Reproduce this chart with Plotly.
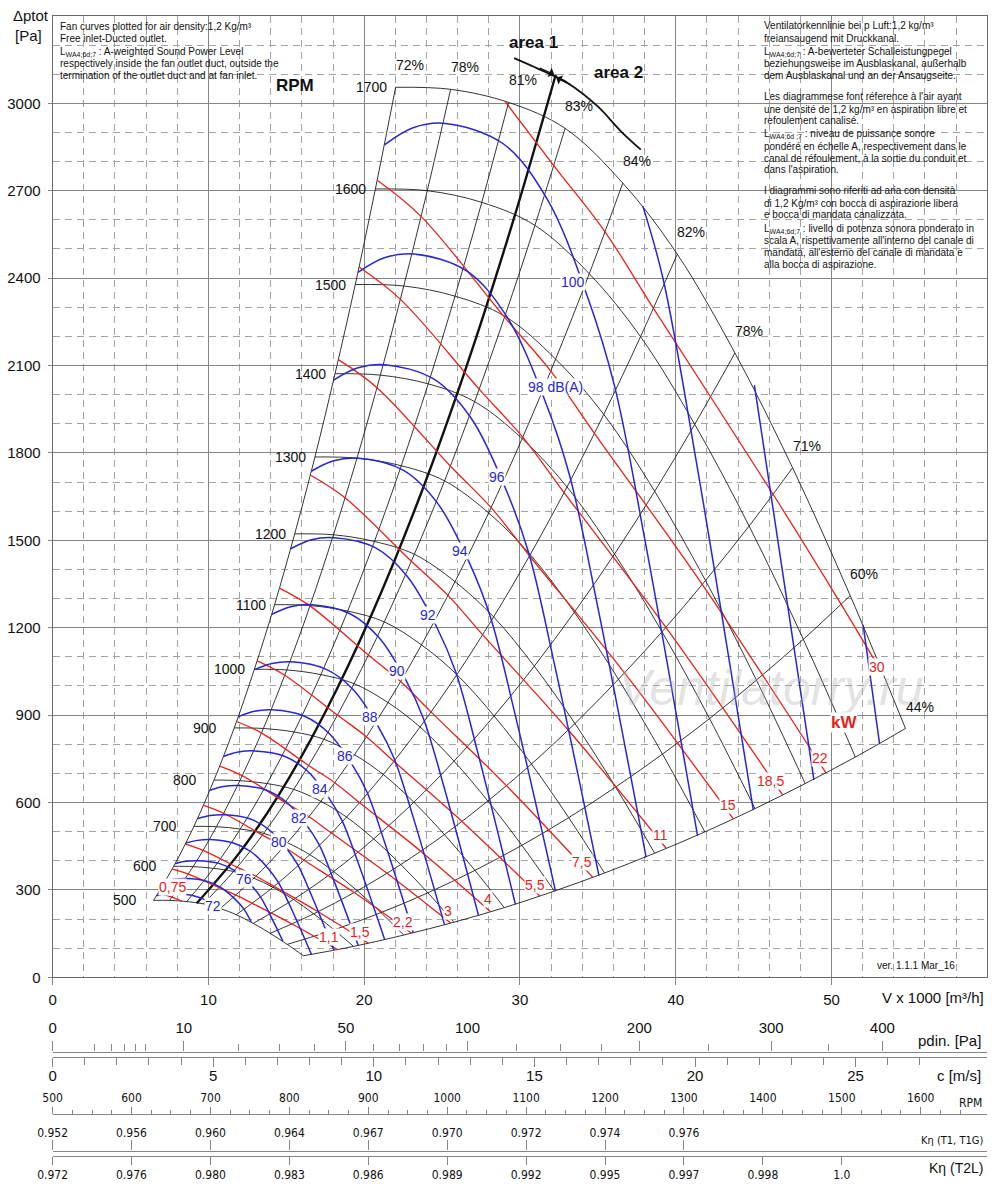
import plotly.graph_objects as go

# ------------------------------------------------------------------
# Values
# ------------------------------------------------------------------
RPM = [500, 600, 700, 800, 900, 1000, 1100, 1200, 1300, 1400, 1500, 1600, 1700]
EFF_LABELS = ["72%", "78%", "81%", "83%", "84%", "82%", "78%", "71%", "60%", "44%"]

# Flow V (x1000 m3/h) / total pressure (Pa) where every RPM curve meets every efficiency line
GRID_V = [
    [6.48, 7.51, 8.61, 9.68, 10.76, 11.79, 12.88, 13.97, 15.06, 16.10],
    [7.77, 9.02, 10.33, 11.61, 12.92, 14.15, 15.46, 16.76, 18.07, 19.32],
    [9.07, 10.52, 12.05, 13.55, 15.07, 16.51, 18.04, 19.56, 21.08, 22.54],
    [10.36, 12.02, 13.77, 15.48, 17.22, 18.87, 20.61, 22.35, 24.09, 25.76],
    [11.66, 13.53, 15.50, 17.42, 19.38, 21.23, 23.19, 25.15, 27.11, 28.99],
    [12.95, 15.03, 17.22, 19.35, 21.53, 23.59, 25.77, 27.94, 30.12, 32.21],
    [14.25, 16.53, 18.94, 21.29, 23.68, 25.95, 28.34, 30.74, 33.13, 35.43],
    [15.54, 18.03, 20.66, 23.22, 25.83, 28.31, 30.92, 33.53, 36.14, 38.65],
    [16.84, 19.54, 22.38, 25.16, 27.99, 30.66, 33.49, 36.32, 39.15, 41.87],
    [18.13, 21.04, 24.11, 27.09, 30.14, 33.02, 36.07, 39.12, 42.17, 45.09],
    [19.43, 22.54, 25.83, 29.03, 32.29, 35.38, 38.65, 41.91, 45.18, 48.31],
    [20.72, 24.05, 27.55, 30.96, 34.45, 37.74, 41.22, 44.71, 48.19, 51.53],
    [22.02, 25.55, 29.27, 32.90, 36.60, 40.10, 43.80, 47.50, 51.20, 54.75],
]
GRID_P = [
    [264, 264, 260, 252, 236, 215, 185, 151, 113, 74],
    [381, 380, 374, 363, 340, 309, 267, 218, 163, 106],
    [518, 517, 509, 494, 462, 421, 363, 297, 222, 145],
    [677, 675, 665, 645, 604, 550, 475, 387, 290, 189],
    [856, 854, 842, 817, 764, 696, 601, 490, 367, 239],
    [1057, 1055, 1039, 1008, 943, 859, 742, 605, 453, 296],
    [1279, 1276, 1257, 1220, 1141, 1039, 897, 732, 548, 358],
    [1522, 1519, 1496, 1452, 1358, 1237, 1068, 871, 653, 426],
    [1786, 1782, 1756, 1704, 1594, 1451, 1253, 1023, 766, 499],
    [2072, 2067, 2037, 1976, 1849, 1683, 1453, 1186, 888, 579],
    [2378, 2373, 2338, 2269, 2122, 1932, 1668, 1362, 1020, 665],
    [2706, 2700, 2660, 2581, 2415, 2199, 1898, 1549, 1160, 756],
    [3055, 3048, 3003, 2914, 2726, 2482, 2143, 1749, 1310, 854],
]

# bold line separating area 1 / area 2
AREA_V = [9.25, 12.0, 14.6, 17.5, 20.5, 23.5, 26.5, 29.5, 32.3]
AREA_P = [254, 428, 633, 910, 1248, 1640, 2086, 2585, 3099]
ARROW_V = [29.63, 31.77, 33.06, 34.98, 36.48, 37.76]
ARROW_P = [3155, 3104, 3070, 2990, 2904, 2841]

# absorbed power lines (kW)
KW_TEXT = ["0,75", "1,1", "1,5", "2,2", "3", "4", "5,5", "7,5", "11", "15", "18,5", "22", "30"]
KW_V = [
    [6.76, 7.67, 8.32],
    [7.68, 8.71, 10.69, 11.78, 12.82, 15.37, 18.29],
    [8.52, 9.66, 11.85, 13.06, 14.21, 17.04, 20.28],
    [9.68, 10.98, 13.47, 14.84, 16.14, 19.36, 23.04],
    [10.73, 12.17, 14.93, 16.46, 17.90, 21.47, 25.55],
    [11.81, 13.40, 16.44, 18.11, 19.71, 23.63, 28.12],
    [13.13, 14.90, 18.28, 20.14, 21.91, 26.28, 31.27],
    [14.56, 16.52, 20.27, 22.34, 24.29, 29.13, 34.68],
    [16.54, 18.77, 23.03, 25.38, 27.60, 33.10, 39.40],
    [18.34, 20.82, 25.53, 28.15, 30.61, 36.71, 43.70],
    [19.67, 22.33, 27.38, 30.18, 32.83, 39.37, 46.86],
    [20.84, 23.65, 29.01, 31.98, 34.78, 41.71, 49.64],
    [29.05, 32.17, 35.46, 38.57, 46.25, 50.62, 53.30],
]
KW_P = [
    [288, 275, 261],
    [371, 354, 308, 282, 254, 183, 95],
    [457, 436, 378, 347, 312, 225, 117],
    [590, 563, 488, 448, 402, 291, 151],
    [725, 692, 600, 551, 495, 357, 186],
    [878, 839, 727, 668, 599, 433, 225],
    [1086, 1037, 900, 826, 741, 535, 279],
    [1336, 1275, 1106, 1015, 911, 658, 343],
    [1724, 1646, 1428, 1311, 1176, 849, 442],
    [2120, 2024, 1755, 1612, 1447, 1045, 544],
    [2438, 2327, 2019, 1854, 1664, 1201, 626],
    [2736, 2612, 2266, 2081, 1867, 1348, 702],
    [3006, 2786, 2559, 2296, 1658, 1280, 1040],
]
KW_LABEL_V = [7.67, 17.75, 19.74, 22.50, 25.40, 27.97, 30.98, 34.00, 39.01, 43.38, 46.08, 49.29, 52.95]
KW_LABEL_P = [310, 138, 156, 190, 228, 269, 317, 396, 488, 591, 674, 753, 1065]

# sound power level lines dB(A)
DB_LEVELS = [72, 74, 76, 78, 80, 82, 84, 86, 88, 90, 92, 94, 96, 98, 100, 102, 104, 106]
DB_V = [
    [6.67, 7.24, 7.89, 9.05, 9.93, 10.44],
    [7.24, 7.87, 8.57, 9.83, 10.79, 11.68, 12.27, 12.75],
    [7.87, 8.55, 9.32, 10.68, 11.72, 12.69, 13.33, 14.05, 14.78],
    [8.55, 9.29, 10.12, 11.60, 12.74, 13.78, 14.48, 15.27, 16.62],
    [9.29, 10.10, 11.00, 12.61, 13.84, 14.98, 15.74, 16.59, 18.06],
    [10.09, 10.97, 11.95, 13.70, 15.04, 16.27, 17.10, 18.02, 19.62],
    [10.97, 11.92, 12.98, 14.88, 16.34, 17.68, 18.58, 19.58, 21.32],
    [11.91, 12.95, 14.10, 16.17, 17.75, 19.21, 20.18, 21.28, 23.16],
    [12.95, 14.07, 15.32, 17.57, 19.29, 20.87, 21.93, 23.12, 25.16],
    [14.07, 15.29, 16.65, 19.09, 20.95, 22.68, 23.82, 25.12, 27.34],
    [15.28, 16.61, 18.09, 20.74, 22.77, 24.64, 25.89, 27.29, 29.71],
    [16.60, 18.04, 19.65, 22.53, 24.74, 26.77, 28.12, 29.65, 32.28],
    [18.04, 19.60, 21.35, 24.48, 26.88, 29.08, 30.56, 32.21, 35.07],
    [19.60, 21.30, 23.20, 26.60, 29.20, 31.60, 33.20, 35.00, 38.10],
    [21.30, 23.14, 25.21, 28.90, 31.73, 34.33, 36.07, 38.03, 41.40],
    [37.89, 39.19, 41.32, 44.98],
    [45.05, 48.87],
    [52.03, 53.09],
]
DB_P = [
    [280, 286, 287, 280, 262, 241],
    [331, 337, 339, 331, 309, 270, 235, 190],
    [390, 398, 400, 391, 365, 319, 277, 205, 124],
    [461, 470, 473, 461, 431, 377, 327, 242, 78],
    [544, 555, 558, 545, 509, 445, 386, 285, 93],
    [642, 655, 658, 643, 600, 525, 456, 337, 109],
    [758, 773, 777, 759, 709, 620, 538, 398, 129],
    [894, 913, 918, 896, 837, 732, 636, 469, 152],
    [1056, 1077, 1083, 1057, 988, 864, 750, 554, 180],
    [1246, 1272, 1279, 1248, 1166, 1020, 886, 654, 212],
    [1471, 1502, 1509, 1474, 1376, 1204, 1046, 772, 250],
    [1737, 1773, 1782, 1740, 1625, 1421, 1234, 911, 296],
    [2050, 2092, 2103, 2053, 1918, 1677, 1457, 1076, 349],
    [2420, 2470, 2483, 2424, 2264, 1980, 1720, 1270, 412],
    [2857, 2916, 2931, 2862, 2673, 2337, 2030, 1499, 486],
    [2647, 2397, 1770, 574],
    [2033, 678],
    [1210, 800],
]
DB_LABEL_TEXT = ["72", "76", "80", "82", "84", "86", "88", "90", "92", "94", "96", "98 dB(A)", "100"]
DB_LABEL_V = [10.30, 12.29, 14.54, 15.82, 17.17, 18.78, 20.38, 22.12, 24.11, 26.17, 28.54, 32.27, 33.42]
DB_LABEL_P = [245, 337, 464, 547, 646, 760, 894, 1051, 1244, 1463, 1717, 2026, 2387]

# main axes ticks
X_TICKS = [0, 10, 20, 30, 40, 50]
Y_TICKS = [0, 300, 600, 900, 1200, 1500, 1800, 2100, 2400, 2700, 3000]

# auxiliary scales below the chart
PDIN_MAJOR = [0, 10, 50, 100, 200, 300, 400]
PDIN_MINOR = [1, 2, 3, 4, 5, 20, 30, 40, 60, 70, 80, 90, 125, 150, 175, 250, 350]
C_MAJOR = [0, 5, 10, 15, 20, 25]
C_MINOR = [1, 2, 3, 4, 6, 7, 8, 9, 11, 12, 13, 14, 16, 17, 18, 19, 21, 22, 23, 24, 26, 27]
RPM_SCALE = [500, 600, 700, 800, 900, 1000, 1100, 1200, 1300, 1400, 1500, 1600]
RPM_MINOR = [525, 550, 575, 625, 650, 675, 725, 750, 775, 825, 850, 875, 925, 950, 975,
             1025, 1050, 1075, 1125, 1150, 1175, 1225, 1250, 1275, 1325, 1350, 1375,
             1425, 1450, 1475, 1525, 1550, 1575, 1625, 1650]
K_T1_RPM = [500, 600, 700, 800, 900, 1000, 1100, 1200, 1300]
K_T1_TEXT = ["0.952", "0.956", "0.960", "0.964", "0.967", "0.970", "0.972", "0.974", "0.976"]
K_T2_RPM = [500, 600, 700, 800, 900, 1000, 1100, 1200, 1300, 1400, 1500]
K_T2_TEXT = ["0.972", "0.976", "0.980", "0.983", "0.986", "0.989", "0.992", "0.995", "0.997", "0.998", "1.0"]

# ------------------------------------------------------------------
# Styling / layout
# ------------------------------------------------------------------
FIG_W, FIG_H = 1000, 1184
PLOT_L, PLOT_R, PLOT_T, PLOT_B = 52.6, 987.3, 15.9, 977.3

FONT = "Liberation Sans, Arial, Helvetica, sans-serif"
NARROW = "Liberation Sans Narrow, Arial Narrow, DejaVu Sans Condensed, Liberation Sans, sans-serif"
BLACK = "#111111"
RED = "#e3231c"
BLUE = "#2727cf"
GRID_MAJOR = "#858585"
GRID_MINOR = "#a3a3a3"
FRAME = "#6a6a6a"
SCALE = "#858585"


def xp(x):
    return x / FIG_W


def yp(y):
    return 1 - y / FIG_H


fig = go.Figure()


def add_line(xs, ys, color, width, xaxis="x"):
    fig.add_trace(go.Scatter(x=xs, y=ys, mode="lines", xaxis=xaxis, yaxis="y",
                             line=dict(color=color, width=width, shape="spline", smoothing=1.0),
                             hoverinfo="skip", showlegend=False))


# efficiency lines (columns of the grid)
for j in range(len(EFF_LABELS)):
    add_line([row[j] for row in GRID_V], [row[j] for row in GRID_P], BLACK, 0.85)
# RPM curves (rows of the grid)
for row_v, row_p in zip(GRID_V, GRID_P):
    add_line(row_v, row_p, BLACK, 0.85)
# area divider and arrow arc
add_line(AREA_V, AREA_P, BLACK, 2.4)
add_line(ARROW_V, ARROW_P, BLACK, 1.8)
# kW lines
for v, p in zip(KW_V, KW_P):
    add_line(v, p, RED, 1.3)
# dB lines
for v, p in zip(DB_V, DB_P):
    add_line(v, p, BLUE, 1.5)

ann = []


def text_px(text, x, y, size=10, color=BLACK, xanchor="left", family=FONT, **kw):
    ann.append(dict(text=text, x=xp(x), y=yp(y), xref="paper", yref="paper", showarrow=False,
                    xanchor=xanchor, yanchor="middle", font=dict(size=size, color=color, family=family), **kw))


def text_data(text, x, y, size=14, color=BLACK, xanchor="center", **kw):
    ann.append(dict(text=text, x=x, y=y, xref="x", yref="y", showarrow=False,
                    xanchor=xanchor, yanchor="middle", font=dict(size=size, color=color, family=FONT), **kw))


# watermark first so that the real labels sit above it
text_px("Ventilatorry.ru", 771, 688, size=50, color="rgba(175,175,175,0.35)",
        xanchor="center", family="Liberation Sans, Arial, sans-serif")
ann[-1]["font"]["style"] = "italic"

# RPM labels at the start of every curve
for rpm, row_v, row_p in zip(RPM, GRID_V, GRID_P):
    text_data(str(rpm), row_v[0], row_p[0], size=14, xanchor="right",
              xshift=(-7 if rpm >= 1000 else -15))
# efficiency labels at the end on the 1700 curve
for lab, v, p in zip(EFF_LABELS, GRID_V[-1], GRID_P[-1]):
    text_data(lab, v, p, size=14, xshift=14, yshift=22)
# kW labels
for t, v, p in zip(KW_TEXT, KW_LABEL_V, KW_LABEL_P):
    text_data(t, v, p, size=14, color=RED, bgcolor="white", borderpad=0)
text_data("<b>kW</b>", 50.77, 873, size=17, color=RED, bgcolor="white", borderpad=0)
# dB labels
for t, v, p in zip(DB_LABEL_TEXT, DB_LABEL_V, DB_LABEL_P):
    text_data(t, v, p, size=14, color=BLUE, bgcolor="white", borderpad=0)

# arrows pointing at the area divider
ann.append(dict(x=32.20, y=3099, xref="x", yref="y", ax=-16, ay=-7, text="", showarrow=True,
                arrowhead=1, arrowsize=1.3, arrowwidth=1.3, arrowcolor=BLACK))
ann.append(dict(x=32.33, y=3088, xref="x", yref="y", ax=16, ay=8, text="", showarrow=True,
                arrowhead=1, arrowsize=1.3, arrowwidth=1.3, arrowcolor=BLACK))
text_px("<b>area 1</b>", 533, 42, size=17, xanchor="center")
text_px("<b>area 2</b>", 618, 72, size=17, xanchor="center")
text_px("<b>RPM</b>", 295, 86, size=17, xanchor="center")

# axis titles and notes
text_px("\u0394ptot", 31, 15, size=15, xanchor="center")
text_px("[Pa]", 28, 35, size=15, xanchor="center")
text_px("V x 1000 [m\u00b3/h]", 986, 997, size=15, xanchor="right")
text_px("ver. 1.1.1 Mar_16", 916, 965, size=10, xanchor="center")

LW = "L<sub>WA4;6d;7</sub>"
left_note = [
    ("Fan curves plotted for air density:1,2 Kg/m\u00b3", 26.7),
    ("Free inlet-Ducted outlet.", 38.3),
    (LW + " : A-weighted Sound Power Level", 51.7),
    ("respectively inside the fan outlet duct, outside the", 63.3),
    ("termination of the outlet duct and at fan inlet.", 75),
]
for t, y in left_note:
    text_px(t, 58, y, size=10)

right_note = [
    ("Ventilatorkennlinie bei p Luft:1,2 kg/m\u00b3", 26),
    ("freiansaugend mit Druckkanal.", 38),
    (LW + " : A-bewerteter Schalleistungpegel", 52),
    ("beziehungsweise im Ausblaskanal, au\u00dferhalb", 63.5),
    ("dem Ausblaskanal und an der Ansaugseite.", 75),
    ("Les diagrammese font r\u00e9ference \u00e0 l'air ayant", 97),
    ("une densit\u00e9 de 1,2 kg/m\u00b3 en aspiration libre et", 109),
    ("refoulement canalis\u00e9.", 120.5),
    ("L<sub>WA4;6d ;7</sub> : niveau de puissance sonore", 134),
    ("pond\u00e9r\u00e9 en \u00e9chelle A, respectivement dans le", 146.5),
    ("canal de r\u00e9foulement, \u00e0 la sortie du conduit et", 158),
    ("dans l'aspiration.", 169.5),
    ("I diagrammi sono riferiti ad aria con densit\u00e0", 191),
    ("di 1,2 Kg/m\u00b3 con bocca di aspirazione libera", 203),
    ("e bocca di mandata canalizzata.", 214.5),
    (LW + " : livello di potenza sonora ponderato in", 229),
    ("scala A, rispettivamente all'interno del canale di", 241),
    ("mandata, all'esterno del canale di mandata e", 252.5),
    ("alla bocca di aspirazione.", 264),
]
for t, y in right_note:
    text_px(t, 762, y, size=10)

# titles of the auxiliary scales
text_px("pdin. [Pa]", 983, 1040, size=15, xanchor="right")
text_px("c [m/s]", 983, 1075, size=15, xanchor="right")
text_px("RPM", 984, 1103, size=12, xanchor="right", family=NARROW)
text_px("K\u03b7 (T1, T1G)", 985, 1140, size=11, xanchor="right", family=NARROW)
text_px("K\u03b7 (T2L)", 985, 1168, size=14, xanchor="right")

# ------------------------------------------------------------------
# axes
# ------------------------------------------------------------------
main_x = dict(domain=[xp(PLOT_L), xp(PLOT_R)], range=[0, 60], anchor="y", automargin=False,
              tickmode="array", tickvals=X_TICKS, ticks="outside", ticklen=7, tickcolor=GRID_MAJOR,
              tickfont=dict(size=15, family=FONT, color=BLACK), ticklabelstandoff=2,
              showgrid=True, gridcolor=GRID_MAJOR, gridwidth=1,
              showline=True, mirror=True, linecolor=FRAME, linewidth=1, zeroline=False,
              minor=dict(tickmode="linear", tick0=0, dtick=2, showgrid=True, gridcolor=GRID_MINOR,
                         griddash="7px,5px", gridwidth=1, ticks=""),
              fixedrange=True)
main_y = dict(domain=[yp(PLOT_B), yp(PLOT_T)], range=[0, 3300], anchor="x", automargin=False,
              tickmode="array", tickvals=Y_TICKS, ticks="outside", ticklen=4, tickcolor=GRID_MAJOR,
              tickfont=dict(size=15, family=FONT, color=BLACK), ticklabelstandoff=4,
              showgrid=True, gridcolor=GRID_MAJOR, gridwidth=1,
              showline=True, mirror=True, linecolor=FRAME, linewidth=1, zeroline=False,
              minor=dict(tickmode="linear", tick0=0, dtick=100, showgrid=True, gridcolor=GRID_MINOR,
                         griddash="7px,5px", gridwidth=1, ticks=""),
              fixedrange=True)


def scale_axis(ypix, side, rng, vals, texts, minor_vals, major_len, minor_len, font, standoff):
    return dict(overlaying="x", anchor="free", position=yp(ypix), side=side, range=rng,
                automargin=False,
                tickmode="array", tickvals=vals, ticktext=texts, ticks="outside",
                ticklen=major_len, tickwidth=1, tickcolor=SCALE,
                showline=True, linecolor=SCALE, linewidth=1.3, showgrid=False, zeroline=False,
                tickfont=font, ticklabelstandoff=standoff,
                minor=dict(tickmode="array", tickvals=minor_vals, ticks="outside", ticklen=minor_len,
                           tickcolor=SCALE, showgrid=False),
                fixedrange=True)


PDIN_RANGE = [0, 22.53]          # axis runs in sqrt(pdin) so that it is linear in flow
C_RANGE = [0, 29.1]
RPM_RANGE = [500, 1684.4]
big = dict(size=15, family=FONT, color=BLACK)
small = dict(size=12, family=NARROW, color=BLACK)

xaxis2 = scale_axis(1051.5, "top", PDIN_RANGE, [v ** 0.5 for v in PDIN_MAJOR], [str(v) for v in PDIN_MAJOR],
                    [v ** 0.5 for v in PDIN_MINOR], 10, 7, big, 2)
xaxis3 = scale_axis(1056.7, "bottom", C_RANGE, C_MAJOR, [str(v) for v in C_MAJOR],
                    C_MINOR, 9, 7, big, -4)
xaxis4 = scale_axis(1114, "top", RPM_RANGE, RPM_SCALE, [str(v) for v in RPM_SCALE],
                    RPM_MINOR, 7, 4, small, 0)
xaxis5 = scale_axis(1150.5, "top", RPM_RANGE, K_T1_RPM, K_T1_TEXT, [], 10, 0, small, -1)
xaxis6 = scale_axis(1156, "bottom", RPM_RANGE, K_T2_RPM, K_T2_TEXT, [], 8, 0, small, -1)

for name, rng in [("x2", PDIN_RANGE), ("x3", C_RANGE), ("x4", RPM_RANGE), ("x5", RPM_RANGE), ("x6", RPM_RANGE)]:
    fig.add_trace(go.Scatter(x=[rng[0]], y=[0], xaxis=name, yaxis="y", mode="markers",
                             marker=dict(opacity=0, size=1), hoverinfo="skip", showlegend=False))

fig.update_layout(
    width=FIG_W, height=FIG_H, autosize=False,
    margin=dict(l=0, r=0, t=0, b=0, pad=0),
    paper_bgcolor="white", plot_bgcolor="white", showlegend=False,
    font=dict(family=FONT, color=BLACK),
    xaxis=main_x, yaxis=main_y,
    xaxis2=xaxis2, xaxis3=xaxis3, xaxis4=xaxis4, xaxis5=xaxis5, xaxis6=xaxis6,
    annotations=ann,
)

fig.write_html("out.html", include_plotlyjs=True, config={"displayModeBar": False},
               post_script="document.body.style.margin='0px';document.body.style.overflow='hidden';")
